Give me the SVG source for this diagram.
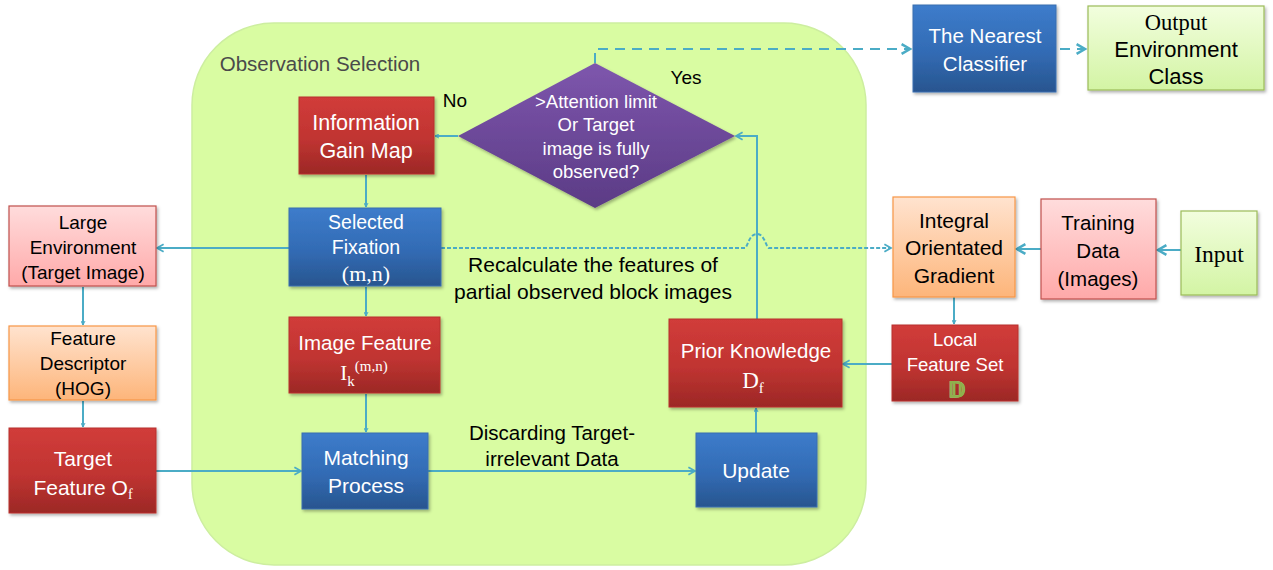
<svg xmlns="http://www.w3.org/2000/svg" width="1273" height="570" viewBox="0 0 1273 570">
  <defs>
    <linearGradient id="gRed" x1="0" y1="0" x2="0" y2="1">
      <stop offset="0" stop-color="#d13c3a"/>
      <stop offset="0.55" stop-color="#c03431"/>
      <stop offset="1" stop-color="#9c2826"/>
    </linearGradient>
    <linearGradient id="gBlue" x1="0" y1="0" x2="0" y2="1">
      <stop offset="0" stop-color="#3d7ccb"/>
      <stop offset="0.55" stop-color="#326bb4"/>
      <stop offset="1" stop-color="#28558f"/>
    </linearGradient>
    <linearGradient id="gPink" x1="0" y1="0" x2="0" y2="1">
      <stop offset="0" stop-color="#ffdcdc"/>
      <stop offset="1" stop-color="#ffa9a9"/>
    </linearGradient>
    <linearGradient id="gOrange" x1="0" y1="0" x2="0" y2="1">
      <stop offset="0" stop-color="#ffe3cf"/>
      <stop offset="1" stop-color="#fdb57a"/>
    </linearGradient>
    <linearGradient id="gLime" x1="0" y1="0" x2="0" y2="1">
      <stop offset="0" stop-color="#f2fede"/>
      <stop offset="1" stop-color="#d3f4a4"/>
    </linearGradient>
    <linearGradient id="gPurple" x1="0" y1="0" x2="0" y2="1">
      <stop offset="0" stop-color="#7e56ad"/>
      <stop offset="1" stop-color="#5b3b85"/>
    </linearGradient>
    <filter id="shadow" x="-10%" y="-10%" width="125%" height="130%">
      <feDropShadow dx="1.5" dy="2" stdDeviation="1.5" flood-color="#000" flood-opacity="0.3"/>
    </filter>
    <marker id="arrow" viewBox="0 0 10 10" refX="9" refY="5" markerWidth="5" markerHeight="5" orient="auto" markerUnits="userSpaceOnUse">
      <polyline points="1,1 9,5 1,9" fill="none" stroke="#4bacc6" stroke-width="2"/>
    </marker>
    <marker id="arrowM" viewBox="0 0 10 10" refX="8" refY="5" markerWidth="11" markerHeight="11" orient="auto" markerUnits="userSpaceOnUse">
      <polyline points="2,1.5 8,5 2,8.5" fill="none" stroke="#4bacc6" stroke-width="1.6"/>
    </marker>
    <marker id="arrowL" viewBox="0 0 10 10" refX="8" refY="5" markerWidth="14" markerHeight="14" orient="auto" markerUnits="userSpaceOnUse">
      <polyline points="2,1.5 8,5 2,8.5" fill="none" stroke="#4bacc6" stroke-width="1.8"/>
    </marker>
  </defs>
  <style>
    .sans { font-family: "Liberation Sans", Arial, sans-serif; }
    .serif { font-family: "Liberation Serif", "Times New Roman", serif; }
    .w { fill: #ffffff; }
    .k { fill: #000000; }
    .red { fill: url(#gRed); stroke: #b8302e; stroke-width: 1; filter: url(#shadow); }
    .blue { fill: url(#gBlue); stroke: #3a6fb0; stroke-width: 1; filter: url(#shadow); }
    .pink { fill: url(#gPink); stroke: #c0504d; stroke-width: 1.2; filter: url(#shadow); }
    .orange { fill: url(#gOrange); stroke: #f79646; stroke-width: 1.2; filter: url(#shadow); }
    .lime { fill: url(#gLime); stroke: #9bbb59; stroke-width: 1.2; filter: url(#shadow); }
    .conn { fill: none; stroke: #4bacc6; stroke-width: 2; }
    text { text-anchor: middle; }
  </style>

  <!-- observation selection container -->
  <g id="observation-selection">
    <rect x="192" y="23" width="674" height="542" rx="82" ry="82" fill="#d9fca2" stroke="#cdeea0" stroke-width="1.5"/>
    <text x="320" y="71" class="sans" font-size="20.5" fill="#4a4a4a">Observation Selection</text>
  </g>

  <!-- connectors -->
  <g id="connectors">
    <line class="conn" x1="458" y1="136" x2="435" y2="136" marker-end="url(#arrow)"/>
    <line class="conn" x1="366" y1="175" x2="366" y2="207" marker-end="url(#arrow)"/>
    <line class="conn" x1="289" y1="248" x2="157" y2="248" marker-end="url(#arrowM)"/>
    <line class="conn" x1="366" y1="287" x2="366" y2="316" marker-end="url(#arrow)"/>
    <line class="conn" x1="366" y1="394" x2="366" y2="432" marker-end="url(#arrow)"/>
    <line class="conn" x1="83" y1="287" x2="83" y2="325" marker-end="url(#arrow)"/>
    <line class="conn" x1="83" y1="401" x2="83" y2="427" marker-end="url(#arrow)"/>
    <line class="conn" x1="156" y1="471" x2="301" y2="471" marker-end="url(#arrowM)"/>
    <line class="conn" x1="428" y1="471" x2="695" y2="471" marker-end="url(#arrowM)"/>
    <line class="conn" x1="756" y1="433" x2="756" y2="408" marker-end="url(#arrow)"/>
    <polyline class="conn" points="757,319 757,136 736,136" marker-end="url(#arrowM)"/>
    <line class="conn" x1="892" y1="364" x2="843" y2="364" marker-end="url(#arrowM)"/>
    <line class="conn" x1="954" y1="297" x2="954" y2="324" marker-end="url(#arrow)"/>
    <line class="conn" x1="1041" y1="249" x2="1017" y2="249" stroke-width="3" marker-end="url(#arrowL)"/>
    <line class="conn" x1="1181" y1="250" x2="1158" y2="250" stroke-width="3" marker-end="url(#arrowL)"/>
    <path class="conn" d="M441,248 H745 C748,246 749,234 757,234 C765,234 766,248 769,248 H891" stroke-width="1.5" stroke-dasharray="4 2" marker-end="url(#arrowM)"/>
    <polyline class="conn" points="595,63 595,49 910,49" stroke-width="3" stroke-dasharray="10 7" marker-end="url(#arrowL)"/>
    <line class="conn" x1="1060" y1="49" x2="1085" y2="49" stroke-width="3" stroke-dasharray="10 7" marker-end="url(#arrowL)"/>
    <text x="455" y="107" class="sans k" font-size="19">No</text>
    <text x="686" y="84" class="sans k" font-size="19">Yes</text>
    <text x="593" y="272" class="sans k" font-size="21">Recalculate the features of</text>
    <text x="593" y="299" class="sans k" font-size="21">partial observed block images</text>
    <text x="552" y="440" class="sans k" font-size="20.5">Discarding Target-</text>
    <text x="552" y="466" class="sans k" font-size="20.5">irrelevant Data</text>
  </g>

  <!-- nodes -->
  <g id="decision">
    <polygon points="595,63 735,136 595,208 458,136" fill="url(#gPurple)" filter="url(#shadow)"/>
    <text x="596" y="108" class="sans w" font-size="18.5">&gt;Attention limit</text>
    <text x="596" y="131" class="sans w" font-size="18.5">Or Target</text>
    <text x="596" y="155" class="sans w" font-size="18.5">image is fully</text>
    <text x="596" y="178" class="sans w" font-size="18.5">observed?</text>
  </g>

  <g id="information-gain-map">
    <rect class="red" x="299" y="97" width="135" height="77"/>
    <text x="366" y="130" class="sans w" font-size="21.5">Information</text>
    <text x="366" y="158" class="sans w" font-size="21.5">Gain Map</text>
  </g>

  <g id="selected-fixation">
    <rect class="blue" x="289" y="208" width="152" height="78"/>
    <text x="366" y="229" class="sans w" font-size="19.5">Selected</text>
    <text x="366" y="254" class="sans w" font-size="19.5">Fixation</text>
    <text x="366" y="281" class="serif w" font-size="22">(m,n)</text>
  </g>

  <g id="image-feature">
    <rect class="red" x="289" y="317" width="151" height="76"/>
    <text x="365" y="350" class="sans w" font-size="20.5">Image Feature</text>
    <text x="364" y="380" class="serif w" font-size="21">I<tspan font-size="15" dy="6">k</tspan><tspan font-size="15" dy="-15">(m,n)</tspan></text>
  </g>

  <g id="matching-process">
    <rect class="blue" x="302" y="433" width="126" height="76"/>
    <text x="366" y="465" class="sans w" font-size="21">Matching</text>
    <text x="366" y="493" class="sans w" font-size="21">Process</text>
  </g>

  <g id="update">
    <rect class="blue" x="696" y="433" width="121" height="74"/>
    <text x="756" y="478" class="sans w" font-size="21">Update</text>
  </g>

  <g id="prior-knowledge">
    <rect class="red" x="669" y="319" width="173" height="88"/>
    <text x="756" y="358" class="sans w" font-size="20.5">Prior Knowledge</text>
    <text x="753" y="388" class="serif w" font-size="23">D<tspan font-size="15" dy="5">f</tspan></text>
  </g>

  <g id="large-environment">
    <rect class="pink" x="9" y="206" width="147" height="80"/>
    <text x="83" y="229" class="sans k" font-size="19">Large</text>
    <text x="83" y="254" class="sans k" font-size="19">Environment</text>
    <text x="83" y="279" class="sans k" font-size="19">(Target Image)</text>
  </g>

  <g id="feature-descriptor">
    <rect class="orange" x="9" y="326" width="147" height="74"/>
    <text x="83" y="345" class="sans k" font-size="19">Feature</text>
    <text x="83" y="370" class="sans k" font-size="19">Descriptor</text>
    <text x="83" y="395" class="sans k" font-size="19">(HOG)</text>
  </g>

  <g id="target-feature">
    <rect class="red" x="9" y="428" width="147" height="85"/>
    <text x="83" y="466" class="sans w" font-size="21">Target</text>
    <text x="83" y="495" class="sans w" font-size="21">Feature O<tspan class="serif" font-size="14" dy="4">f</tspan></text>
  </g>

  <g id="nearest-classifier">
    <rect class="blue" x="913" y="5" width="143" height="87"/>
    <text x="985" y="43" class="sans w" font-size="20.5">The Nearest</text>
    <text x="985" y="71" class="sans w" font-size="20.5">Classifier</text>
  </g>

  <g id="output-class">
    <rect class="lime" x="1088" y="6" width="176" height="84"/>
    <text x="1176" y="30" class="serif k" font-size="22.5">Output</text>
    <text x="1176" y="57" class="sans k" font-size="22">Environment</text>
    <text x="1176" y="84" class="sans k" font-size="22">Class</text>
  </g>

  <g id="integral-gradient">
    <rect class="orange" x="893" y="197" width="122" height="100"/>
    <text x="954" y="228" class="sans k" font-size="21">Integral</text>
    <text x="954" y="255" class="sans k" font-size="21">Orientated</text>
    <text x="954" y="283" class="sans k" font-size="21">Gradient</text>
  </g>

  <g id="training-data">
    <rect class="pink" x="1041" y="199" width="115" height="100"/>
    <text x="1098" y="230" class="sans k" font-size="20.5">Training</text>
    <text x="1098" y="258" class="sans k" font-size="20.5">Data</text>
    <text x="1098" y="286" class="sans k" font-size="20.5">(Images)</text>
  </g>

  <g id="input">
    <rect class="lime" x="1181" y="211" width="76" height="84"/>
    <text x="1219" y="262" class="serif k" font-size="23.5">Input</text>
  </g>

  <g id="local-feature-set">
    <rect class="red" x="892" y="325" width="126" height="76"/>
    <text x="955" y="346" class="sans w" font-size="18.5">Local</text>
    <text x="955" y="371" class="sans w" font-size="18.5">Feature Set</text>
    <text x="956" y="397" class="serif" font-size="21" font-weight="bold" fill="#f6fbe6" stroke="#8fb04c" stroke-width="0.7">𝔻</text>
  </g>
</svg>
